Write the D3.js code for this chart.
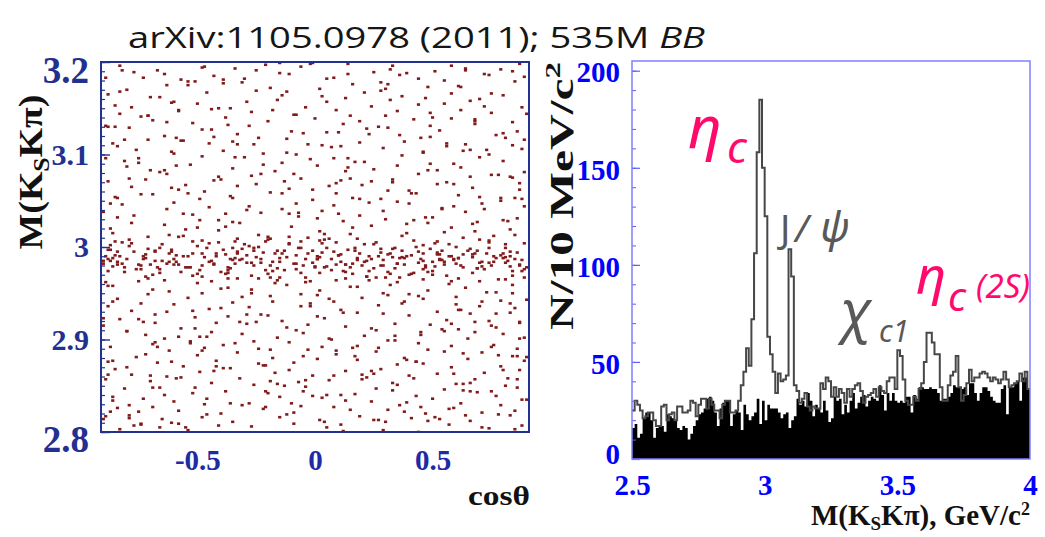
<!DOCTYPE html>
<html><head><meta charset="utf-8">
<script src="https://cdn.jsdelivr.net/npm/d3@7"></script>
<style>body{margin:0;background:#fff}svg{display:block}</style>
</head><body>
<svg id="c" width="1045" height="537"></svg>
<script>
// ---------------- DATA ----------------
const titleMain = "arXiv:1105.0978 (2011); 535M ";
const titleItalic = "BB";
const scatterYTicks = [2.8, 2.9, 3.0, 3.1, 3.2];
const scatterXTicks = [-0.5, 0, 0.5];
const histYTicks = [0, 50, 100, 150, 200];
const histXTicks = [2.5, 3, 3.5, 4];
const binStart = 2.5, binWidth = 0.01;
// signal-region histogram (outline), entries per 10 MeV bin from 2.50 to 4.00
const totalCounts = [
25,30,28,25,21,22,24,24,20,17,
17,27,28,20,23,24,20,27,27,24,
24,25,30,29,22,28,31,31,26,31,
28,25,25,21,28,30,30,24,24,25,
30,38,45,57,48,72,106,158,185,150,
125,63,54,45,34,44,40,41,43,108,
94,38,35,29,31,34,27,25,27,26,
26,39,36,42,40,32,37,32,36,34,
29,36,32,36,38,39,35,29,32,33,
34,36,32,37,35,34,40,42,42,36,
56,53,41,30,28,28,32,30,36,39,
50,65,65,60,54,54,37,30,30,38,
43,45,53,37,30,33,39,46,40,42,
42,44,45,44,42,40,42,41,39,41,
45,41,37,38,39,40,44,40,45,36];
// sideband histogram (black filled)
const sidebandCounts = [
16,18,11,13,21,24,24,20,11,16,
17,17,14,23,22,21,20,16,15,17,
16,10,13,17,20,23,24,26,31,32,
30,24,17,26,29,30,30,17,23,25,
24,15,28,23,20,22,24,31,18,30,
20,28,26,26,26,24,21,23,24,16,
20,22,31,28,30,27,34,30,22,28,
26,24,30,25,19,21,32,30,31,23,
28,24,30,34,26,29,32,33,27,30,
32,31,30,38,33,25,34,30,34,30,
29,30,29,32,32,24,33,31,37,37,
36,36,37,36,36,34,30,31,31,32,
34,38,37,37,36,37,33,39,39,34,
30,34,37,37,35,32,30,29,29,36,
38,23,37,37,39,40,30,42,42,36];
// scatter background: pairs (cosθ ×100, M(KsKπ) in MeV above 2800)
const scatterBackground = [
-83,3,-41,7,12,1,57,8,-66,5,29,2,-9,9,74,4,-27,6,44,0,88,7,-54,2,5,5,-74,8,
-90,14,-35,11,19,17,66,12,-12,19,41,15,-61,10,83,18,2,13,-48,16,30,11,-79,18,53,14,
-58,23,8,27,71,21,-22,25,36,29,-87,22,59,26,-40,20,15,24,-6,28,85,23,-69,27,47,20,-31,29,
24,33,-73,36,62,31,-15,38,90,35,-47,30,3,37,39,32,-86,34,77,39,-28,31,50,36,-60,33,
-38,44,17,41,-81,47,69,43,-4,49,33,45,-64,40,86,48,-20,42,55,46,-51,48,11,40,75,44,
60,52,-89,57,-26,51,42,58,-7,54,81,50,-70,55,22,59,-44,53,6,56,-57,59,35,51,68,57,-13,50,
-78,62,13,66,-36,69,52,63,87,67,-63,60,28,68,-1,61,-49,65,72,64,40,61,-85,68,-17,64,
35,73,-42,77,79,71,-67,75,1,79,58,70,-21,72,-88,76,18,78,46,74,-56,71,89,77,-9,75,65,79,
-50,83,26,87,-76,81,63,85,-3,89,38,80,-33,86,84,82,-62,88,9,84,-18,80,48,89,71,86,
-87,92,44,96,-24,90,76,94,-53,98,16,91,-11,97,58,93,-69,95,31,99,86,90,-39,94,3,92,
21,104,-64,101,68,108,-31,106,89,102,-80,109,7,100,45,105,-46,103,-5,107,55,109,-16,102,80,106,-72,105,
-57,112,34,117,-90,115,61,111,-25,119,13,114,-42,118,77,113,-8,110,49,116,-73,119,24,112,87,118,
4,123,-68,127,56,121,-37,125,83,129,-14,120,40,126,-83,122,66,128,-51,124,18,129,-23,127,74,120,
-45,133,27,137,-78,131,70,136,-2,139,52,130,-60,138,85,134,-28,135,11,132,37,139,-88,136,62,132,
79,142,-19,147,46,144,-71,149,8,141,-54,145,31,148,90,143,-35,140,60,146,-84,144,-6,149,20,145,
-62,152,15,157,-40,155,73,151,-12,159,48,153,-86,158,29,150,64,156,-27,154,84,159,-48,150,2,153,
-75,163,36,167,-17,161,81,165,-52,169,9,164,57,160,-33,166,-89,162,22,168,70,163,-4,167,
42,172,-66,176,5,179,88,174,-38,171,25,177,-81,173,63,178,-21,175,50,170,-55,178,13,173,
-29,183,59,187,-84,181,18,186,-47,189,76,184,-8,182,38,188,-68,185,87,181,1,187,-59,184,
67,192,-16,196,-73,190,33,198,-42,193,83,195,10,191,-88,197,52,194,-26,199,23,190,-61,195,
-11,203,74,207,-50,201,26,205,-79,208,46,202,6,209,-34,206,89,204,-65,203,60,200,-20,208,
37,212,-86,215,68,217,-3,210,-41,218,15,214,-71,211,55,216,-24,213,83,219,2,217,-56,212,
-64,224,12,228,58,221,-32,226,80,229,-87,220,39,225,-10,222,69,227,-49,229,24,223,
47,232,-23,237,-77,234,86,231,3,239,-52,235,30,230,-7,233,64,238,-38,236,19,234,-90,238,
-45,243,71,247,-14,241,35,249,-82,246,54,242,8,245,-60,248,89,244,-29,240,23,248,
16,253,-69,257,79,250,-36,255,43,258,-1,251,-85,254,61,256,-19,259,28,252,-54,258,85,253,
-58,262,6,266,67,264,-25,268,40,261,-78,265,87,269,-11,263,20,267,-47,260,52,268,
33,273,-41,276,-88,271,75,278,-6,274,56,270,-63,279,11,272,-27,277,84,275,44,279,-72,273,
-17,282,62,286,-53,289,25,284,-80,287,89,281,1,288,-35,285,48,283,-66,281,14,286,
80,293,-30,297,-75,291,37,299,-2,295,59,290,-48,298,17,292,-89,296,70,297,-14,291,
-61,303,29,307,-22,301,73,305,-84,309,46,302,7,308,-39,304,88,306,-8,300,56,309,
19,313,-71,316,64,311,-43,319,38,314,-12,317,-86,312,81,318,3,310,-56,315,49,319,-26,311,
-33,322,53,326,-79,329,10,324,77,321,-48,327,31,329,-5,323,86,325,-64,320,22,328,
68,333,-20,336,-89,331,42,338,-52,334,0,339,27,330,-69,337,84,335,-37,332,58,339,12,333,
-9,343,35,347,-74,341,75,345,-44,349,15,342,-27,346,62,348,-83,344,50,340,-58,347,
24,352,-61,356,88,351,-16,359,44,354,-36,350,5,357,-85,353,66,358,-50,355,32,359,-4,351,
-70,362,58,366,-25,369,13,361,80,364,-46,367,-88,365,37,363,-12,368,70,360,21,367,
48,373,-39,377,2,371,-63,375,85,379,-19,372,28,378,-80,370,61,374,-54,379,16,376,
-30,382,74,386,-77,389,8,383,39,388,-57,381,89,384,-11,387,55,380,-43,385,25,389,-89,383,
64,393,-21,397,-67,391,33,396,-1,399,79,392,-48,394,14,398,-83,396,51,390,-34,393,87,398,
-79,15,45,27,-5,44,82,58,-43,66,17,82,-68,97,54,111,-20,126,71,141,-37,156,31,24,-86,38,66,53,-24,74,9,88,-58,103,87,119,-2,136,40,149,
-74,9,20,57,-47,91,77,128,-15,167,50,232,-84,253,13,282,-33,311,68,336,-60,357,5,382,87,262,-22,289,45,318,-71,342,30,371,-6,395,59,244,-40,273,
-10,31,63,45,-80,70,34,99,-29,117,84,150,-55,5,25,63,75,92,-63,130,47,178,-35,227,9,258,-75,296,80,323,-18,348,36,386,-50,221,66,305,-88,330,
27,13,-66,48,90,81,-44,108,6,144,78,19,-19,55,43,76,-90,123,58,163,-8,247,33,270,-59,318,72,352,-31,378,1,231,-70,283,49,345,-15,399,85,213,
-89,17,-81,293,-86,141,-83,368,-88,62,-82,205,-85,330,-80,109,-87,247,-84,26,-90,185,-82,391,-86,77,-81,316,-88,158,-84,232,
-72,84,-78,351,-75,22,-71,198,-79,274,-74,139,-77,7,-73,383,-76,305,-70,61,-78,226,-72,168,-75,122,-79,29,-71,342,-74,257,
-63,335,-69,48,-66,172,-61,264,-68,118,-64,387,-67,92,-62,213,-65,14,-60,301,-69,154,-63,241,-66,362,-61,76,-68,196,-64,283,
-52,131,-58,9,-55,267,-51,379,-59,58,-54,190,-57,315,-53,96,-56,236,-50,161,-58,348,-52,42,-55,219,-59,288,-51,112,-54,375,
-43,272,-49,103,-46,36,-41,350,-48,207,-44,163,-47,395,-42,71,-45,312,-40,134,-49,252,-43,181,-46,19,-41,229,-48,88,-44,327,
-32,58,-38,222,-35,314,-31,146,-39,381,-34,96,-37,175,-33,266,-36,31,-30,203,-38,340,-32,119,-35,253,-39,69,-31,187,-34,297,
-23,183,-29,357,-26,98,-21,27,-28,244,-24,318,-27,150,-22,72,-25,391,-20,211,-29,127,-23,279,-26,196,-21,44,-28,331,-24,166,
-12,302,-18,141,-15,16,-11,236,-19,89,-14,364,-17,193,-13,271,-16,52,-10,325,-18,174,-12,113,-15,388,-19,209,-11,67,-14,258,
-3,116,-9,279,-6,199,-1,39,-8,343,-4,162,-7,237,-2,398,-5,82,0,178,-9,21,-3,311,-6,136,-1,262,-8,191,-4,56,
2,207,8,61,5,324,1,148,9,269,4,11,7,187,3,363,6,101,10,236,8,296,2,172,5,40,9,348,1,125,4,214,
13,34,19,252,16,171,11,309,18,93,14,387,17,199,12,129,15,274,20,62,19,336,13,181,16,221,11,8,18,157,14,296,
23,322,29,128,26,47,21,203,28,369,24,271,27,91,22,185,25,13,30,342,29,239,23,164,26,110,21,292,28,194,24,66,
32,159,38,22,35,288,31,376,39,215,34,104,37,189,33,53,36,321,40,247,38,141,32,392,35,182,39,78,31,261,34,199,
43,76,49,331,46,193,41,258,48,12,44,147,47,361,42,229,45,108,50,184,49,290,43,39,46,303,41,171,48,226,44,382,
52,283,58,117,55,355,51,179,59,63,54,241,57,25,53,192,56,312,60,138,58,396,52,206,55,87,59,268,51,16,54,186,
63,52,69,196,66,276,61,132,68,338,64,18,67,225,62,373,65,101,70,254,69,177,63,304,66,44,61,188,68,119,64,391,
72,241,78,83,75,366,71,179,79,29,74,300,77,151,73,193,76,212,80,67,78,278,72,387,75,115,79,253,71,5,74,183,
83,139,89,316,86,57,81,189,88,252,84,390,87,101,82,228,85,3,90,344,89,176,83,276,86,82,81,199,88,35,84,310];
// scatter ηc band: pairs (cosθ ×100, M(KsKπ) in MeV above 2800)
const scatterBand = [
-12,189,47,180,-68,195,23,174,-35,186,79,191,-81,178,5,199,-50,171,61,188,-22,194,34,177,-89,190,70,183,-6,172,14,197,-44,185,52,192,-74,176,88,186,-28,201,40,170,-59,191,9,181,-16,177,66,198,-84,184,27,190,-40,173,75,180,
-3,193,56,169,-63,182,18,188,-31,198,84,174,-77,195,44,183,-19,180,3,204,-54,178,63,192,30,167,-86,188,11,184,-46,199,72,176,-25,189,37,196,-70,181,
-9,182,49,198,-57,173,20,180,86,194,-36,177,59,186,-79,201,7,175,-15,188,41,191,-65,185,25,203,-48,180,77,188,-1,196,67,172,-27,183,32,193,-88,174,
-52,193,15,178,81,183,-20,171,54,196,-73,187,38,181,-7,199,-42,190,90,178,12,174,-61,197,45,187,-33,193,69,177,-82,182,1,187,28,198,-13,175,58,190,
-45,184,74,199,-26,180,19,193,-67,178,50,174,-4,187,35,182,-87,197,83,190,-37,172,8,195,62,180,-56,190,-18,184,43,200,-76,176,24,187,-11,204,71,184,
-60,181,31,173,-29,191,87,180,-83,190,16,182,53,187,-39,197,4,178,-72,192,46,176,-23,187,65,196,-49,175,21,184,80,188,-5,180,-66,199,39,190,-90,182,
-34,188,60,182,-14,193,76,190,-53,178,10,191,-80,187,48,173,-24,200,29,180,85,187,-43,182,2,189,-62,184,68,193,-8,176,36,188,-75,181,55,184,17,196,
-71,166,42,207,-16,164,63,210,-48,168,9,205,78,165,-33,209,26,167,-85,206,51,204,-2,163,-58,211,84,169,-21,206,35,162,-78,204,70,208,13,166,-41,205,
-27,169,57,203,-64,164,4,208,89,167,-11,211,46,165,-52,206,22,168,-87,202,74,205,-37,166,18,209,-69,170,61,166,-6,206,32,171,-45,204,81,203,-19,167,
-87,185,-85,191,-86,179,-84,195,-88,187,-36,187,-34,182,-38,192,-33,195,-37,178,-35,199,-32,186,1,190,-1,183,3,194,0,179,29,186,31,192,28,180,33,189,
55,181,57,190,53,186,82,185,80,193,83,179,-60,187,-62,193,-58,181,-13,196,-15,184,11,192,13,181,44,195,46,185,67,189,-72,188,-74,180,-48,193];

// ---------------- DRAW ----------------
const svg = d3.select("#c");
const serif = "'Liberation Serif','Times New Roman',serif";
const sans = "'Noto Sans','Open Sans',sans-serif";

// title
const title = svg.append("text").attr("font-family", "'Open Sans',sans-serif").attr("font-size", 29).attr("fill", "#161616");
title.append("tspan").text(titleMain);
title.append("tspan").attr("font-style", "italic").text(titleItalic);
const tw = title.node().getComputedTextLength();
title.attr("transform", `translate(128,48) scale(${577 / tw},1)`);

// ---------- left panel: scatter ----------
const xL = d3.scaleLinear().domain([-0.91, 0.91]).range([101, 529]);
const yL = d3.scaleLinear().domain([2.8, 3.2]).range([432, 62]);
const pts = [];
for (const arr of [scatterBackground, scatterBand])
  for (let i = 0; i < arr.length; i += 2) pts.push({c: arr[i] / 100, m: 2.8 + arr[i + 1] / 1000});

svg.append("clipPath").attr("id", "clipL").append("rect")
  .attr("x", xL.range()[0]).attr("y", yL.range()[1])
  .attr("width", xL.range()[1] - xL.range()[0]).attr("height", yL.range()[0] - yL.range()[1]);
svg.append("g").attr("clip-path", "url(#clipL)").selectAll("rect").data(pts).join("rect")
  .attr("x", d => xL(d.c) - 1.6).attr("y", d => yL(d.m) - 1.3)
  .attr("width", 3.2).attr("height", 2.6).attr("fill", "#821c1c");

const leftNavy = "#22308f";
svg.append("g").attr("transform", `translate(${xL.range()[0]},0)`)
  .call(d3.axisRight(yL).tickValues(d3.range(2.8, 3.2001, 0.01)).tickSize(4).tickFormat(""))
  .call(g => g.select(".domain").remove())
  .call(g => g.selectAll("line").attr("stroke", leftNavy).attr("stroke-width", 1.2));
svg.append("g").attr("transform", `translate(${xL.range()[0]},0)`)
  .call(d3.axisRight(yL).tickValues(scatterYTicks).tickSize(9).tickFormat(""))
  .call(g => g.select(".domain").remove())
  .call(g => g.selectAll("line").attr("stroke", leftNavy).attr("stroke-width", 1.4));
svg.append("rect").attr("x", xL.range()[0]).attr("y", yL.range()[1])
  .attr("width", xL.range()[1] - xL.range()[0]).attr("height", yL.range()[0] - yL.range()[1])
  .attr("fill", "none").attr("stroke", leftNavy).attr("stroke-width", 2);

const yAxL = svg.append("g").attr("transform", `translate(${xL.range()[0]},0)`)
  .call(d3.axisLeft(yL).tickValues(scatterYTicks).tickSize(0).tickPadding(12).tickFormat(d => String(d)));
yAxL.select(".domain").remove();
yAxL.selectAll("text").attr("font-family", serif).attr("font-weight", "bold").attr("fill", leftNavy)
  .attr("font-size", (d, i, n) => (i === 0 || i === n.length - 1) ? 37 : 30)
  .attr("y", (d, i, n) => i === n.length - 1 ? 9 : (i === 0 ? 8 : 0));
const xAxL = svg.append("g").attr("transform", `translate(0,${yL.range()[0]})`)
  .call(d3.axisBottom(xL).tickValues(scatterXTicks).tickSize(0).tickPadding(17).tickFormat(d => String(d)));
xAxL.select(".domain").remove();
xAxL.selectAll("text").attr("font-family", serif).attr("font-weight", "bold").attr("font-size", 29).attr("fill", "#1f2aa6");
svg.append("text").attr("x", 530).attr("y", 505).attr("text-anchor", "end")
  .attr("font-family", serif).attr("font-weight", "bold").attr("font-size", 28).attr("fill", "#111")
  .attr("textLength", 62).attr("lengthAdjust", "spacingAndGlyphs").text("cosθ");
const ytL = svg.append("text").attr("transform", "translate(42,172) rotate(-90)").attr("text-anchor", "middle")
  .attr("font-family", serif).attr("font-weight", "bold").attr("font-size", 34).attr("fill", "#111")
  .attr("textLength", 155).attr("lengthAdjust", "spacingAndGlyphs");
ytL.append("tspan").text("M(K");
ytL.append("tspan").attr("font-size", 23).attr("dy", 7).text("S");
ytL.append("tspan").attr("dy", -7).text("Kπ)");

// ---------- right panel: histogram ----------
const xR = d3.scaleLinear().domain([2.5, 4.0]).range([632, 1030]);
const yR = d3.scaleLinear().domain([0, 205]).range([459, 61]);
const stepPts = arr => arr.map((v, i) => [binStart + i * binWidth, v]).concat([[binStart + arr.length * binWidth, arr[arr.length - 1]]]);
const area = d3.area().x(d => xR(d[0])).y0(yR(0)).y1(d => yR(d[1])).curve(d3.curveStepAfter);
const line = d3.line().x(d => xR(d[0])).y(d => yR(d[1])).curve(d3.curveStepAfter);
svg.append("path").attr("d", area(stepPts(sidebandCounts))).attr("fill", "#000");
svg.append("path").attr("d", line(stepPts(totalCounts))).attr("fill", "none")
  .attr("stroke", "#474747").attr("stroke-width", 2);

const blue = "#0000ff";
svg.append("g").attr("transform", `translate(${xR.range()[0]},0)`)
  .call(d3.axisRight(yR).tickValues(d3.range(0, 201, 10)).tickSize(4).tickFormat(""))
  .call(g => g.select(".domain").remove())
  .call(g => g.selectAll("line").attr("stroke", "#5c5cff").attr("stroke-width", 1));
svg.append("g").attr("transform", `translate(${xR.range()[0]},0)`)
  .call(d3.axisRight(yR).tickValues(histYTicks).tickSize(8).tickFormat(""))
  .call(g => g.select(".domain").remove())
  .call(g => g.selectAll("line").attr("stroke", "#5c5cff").attr("stroke-width", 1.2));
svg.append("rect").attr("x", xR.range()[0]).attr("y", yR.range()[1])
  .attr("width", xR.range()[1] - xR.range()[0]).attr("height", yR.range()[0] - yR.range()[1])
  .attr("fill", "none").attr("stroke", "#7f7fff").attr("stroke-width", 1.5);

const yAxR = svg.append("g").attr("transform", `translate(${xR.range()[0]},0)`)
  .call(d3.axisLeft(yR).tickValues(histYTicks).tickSize(0).tickPadding(12).tickFormat(d => String(d)));
yAxR.select(".domain").remove();
yAxR.selectAll("text").attr("font-family", serif).attr("font-weight", "bold").attr("font-size", 29).attr("fill", blue)
  .attr("y", (d, i) => i === 0 ? -5 : 2);
const xAxR = svg.append("g").attr("transform", `translate(0,${yR.range()[0]})`)
  .call(d3.axisBottom(xR).tickValues(histXTicks).tickSize(0).tickPadding(15).tickFormat(d => String(d)));
xAxR.select(".domain").remove();
xAxR.selectAll("text").attr("font-family", serif).attr("font-weight", "bold").attr("font-size", 29).attr("fill", blue);

const xtR = svg.append("text").attr("x", 1030).attr("y", 525).attr("text-anchor", "end")
  .attr("font-family", serif).attr("font-weight", "bold").attr("font-size", 29).attr("fill", "#111");
xtR.append("tspan").text("M(K");
xtR.append("tspan").attr("font-size", 19).attr("dy", 5).text("S");
xtR.append("tspan").attr("dy", -5).text("Kπ), GeV/c");
xtR.append("tspan").attr("font-size", 18).attr("dy", -10).text("2");
const ytR = svg.append("text").attr("transform", "translate(573,196) rotate(-90)").attr("text-anchor", "middle")
  .attr("font-family", serif).attr("font-weight", "bold").attr("font-size", 33).attr("fill", "#111")
  .attr("textLength", 268).attr("lengthAdjust", "spacingAndGlyphs");
ytR.append("tspan").text("N/10 MeV/c");
ytR.append("tspan").attr("font-size", 22).attr("dy", -13).text("2");

// annotations
const pink = "#ff0a6c", grey = "#595959";
const a1 = svg.append("text").attr("font-family", sans).attr("font-style", "italic").attr("fill", pink);
a1.append("tspan").attr("x", 688).attr("y", 148).attr("font-size", 58).text("η");
a1.append("tspan").attr("x", 727).attr("y", 163).attr("font-size", 44).text("c");

const a2 = svg.append("text").attr("font-family", sans).attr("fill", grey).attr("font-size", 38);
a2.append("tspan").attr("x", 780).attr("y", 242).text("J");
a2.append("tspan").attr("x", 795).attr("y", 242).attr("font-style", "italic").text("/");
a2.append("tspan").attr("x", 820).attr("y", 242).attr("font-style", "italic").attr("font-size", 42).text("ψ");

const a3 = svg.append("text").attr("font-family", sans).attr("font-style", "italic").attr("fill", grey);
a3.append("tspan").attr("x", 840).attr("y", 331).attr("font-size", 56).text("χ");
a3.append("tspan").attr("x", 879).attr("y", 342).attr("font-size", 30).text("c1");

const a4 = svg.append("text").attr("font-family", sans).attr("font-style", "italic").attr("fill", pink);
a4.append("tspan").attr("x", 916).attr("y", 294).attr("font-size", 52).text("η");
a4.append("tspan").attr("x", 948).attr("y", 311).attr("font-size", 40).text("c");
a4.append("tspan").attr("x", 976).attr("y", 298).attr("font-size", 33).text("(2S)");
</script>
</body></html>
